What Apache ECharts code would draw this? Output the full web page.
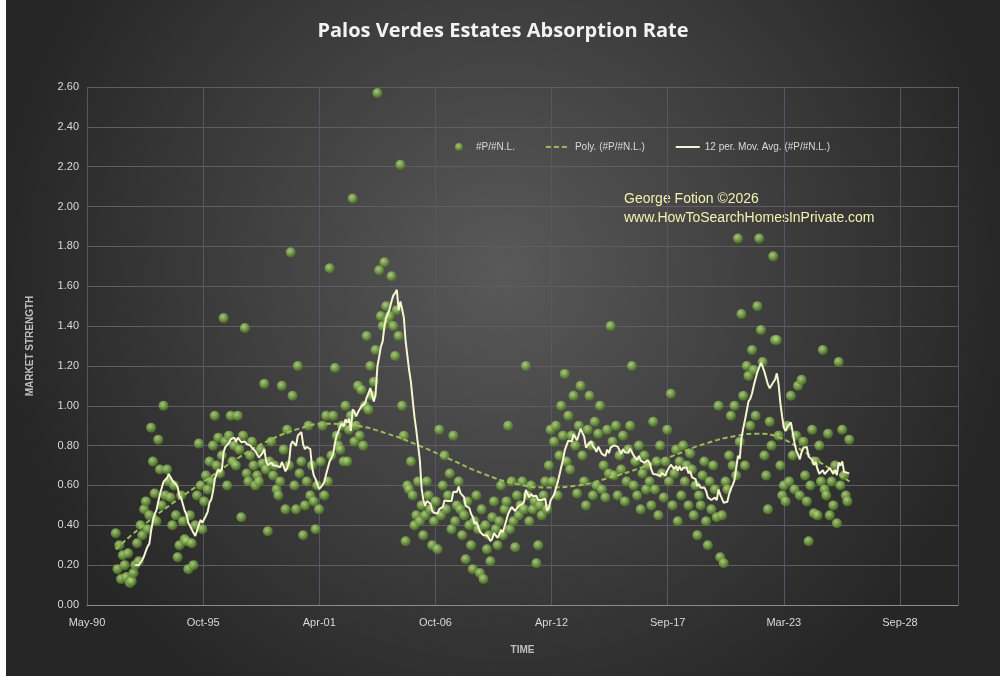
<!DOCTYPE html>
<html>
<head>
<meta charset="utf-8" />
<title>Palos Verdes Estates Absorption Rate</title>
<script src="https://cdn.jsdelivr.net/npm/echarts@6/dist/echarts.min.js"></script>
<style>
  html, body { margin: 0; padding: 0; background: #fff; }
  #chart { position: absolute; left: 6px; top: 0; width: 994px; height: 676px; }
</style>
</head>
<body>
<div id="chart"></div>
<script>
// first month of data: Sep 1991; monthly values per calendar year
const startYear = 1991, startMonth = 8;
const absorption = [
  0.36,0.18,0.30,0.13,
  0.25,0.20,0.14,0.26,0.11,0.12,0.16,0.20,0.31,0.22,0.40,0.35,
  0.48,0.52,0.38,0.45,0.89,0.72,0.56,0.42,0.83,0.68,0.50,1.00,
  0.55,0.68,0.62,0.54,0.40,0.60,0.45,0.24,0.30,0.55,0.42,0.33,
  0.32,0.18,0.45,0.31,0.20,0.40,0.55,0.81,0.60,0.38,0.52,0.65,
  0.58,0.72,0.62,0.80,0.95,0.70,0.84,0.66,0.75,1.44,0.82,0.60,
  0.85,0.95,0.72,0.80,0.70,0.95,0.78,0.44,0.85,1.39,0.66,0.62,
  0.75,0.82,0.70,0.60,0.65,0.62,0.78,0.71,1.11,0.68,0.37,0.72,
  0.82,0.65,0.70,0.58,0.55,0.62,1.10,0.78,0.48,0.88,0.70,1.77,
  1.05,0.60,0.48,1.20,0.66,0.72,0.35,0.50,0.62,0.90,0.55,0.70,
  0.52,0.38,0.60,0.48,0.72,0.90,0.55,0.95,0.62,1.69,0.75,0.95,
  1.19,0.85,0.80,0.78,0.90,0.72,1.00,0.72,0.88,0.95,2.04,0.82,
  0.90,1.10,0.85,1.08,0.80,1.00,1.35,0.98,1.20,1.05,1.12,1.28,
  2.57,1.68,1.45,1.40,1.72,1.50,1.43,1.45,1.65,1.40,1.25,1.48,
  1.35,2.21,1.00,0.85,0.32,0.60,0.58,0.72,0.55,0.40,0.45,0.62,
  0.42,0.50,0.35,0.45,0.62,0.55,0.48,0.30,0.42,0.52,0.28,0.88,
  0.45,0.60,0.75,0.48,0.55,0.66,0.38,0.85,0.42,0.50,0.62,0.48,
  0.35,0.45,0.23,0.52,0.40,0.30,0.18,0.42,0.55,0.38,0.16,0.48,
  0.13,0.40,0.28,0.35,0.22,0.44,0.52,0.38,0.30,0.42,0.60,0.35,
  0.48,0.52,0.90,0.38,0.62,0.42,0.29,0.55,0.45,0.50,0.62,0.48,
  1.20,0.55,0.42,0.60,0.48,0.52,0.21,0.30,0.50,0.45,0.55,0.62,
  0.48,0.70,0.88,0.62,0.82,0.90,0.55,0.75,1.00,0.85,1.16,0.72,
  0.95,0.68,0.85,1.05,0.80,0.56,0.90,1.10,0.75,0.62,0.50,0.88,
  1.05,0.80,0.55,0.92,0.60,0.86,1.00,0.58,0.70,0.54,0.88,0.66,
  1.40,0.82,0.65,0.90,0.55,0.75,0.68,0.85,0.52,0.62,0.78,0.90,
  1.20,0.60,0.72,0.55,0.80,0.48,0.66,0.75,0.58,0.70,0.62,0.50,
  0.92,0.58,0.72,0.45,0.80,0.66,0.54,0.72,0.88,0.62,1.06,0.50,
  0.66,0.78,0.42,0.72,0.55,0.80,0.62,0.70,0.50,0.76,0.68,0.45,
  0.60,0.35,0.55,0.50,0.65,0.72,0.42,0.30,0.62,0.48,0.70,0.58,
  0.44,1.00,0.24,0.45,0.21,0.62,0.58,0.75,0.95,0.70,1.00,0.65,
  1.84,0.82,1.46,1.05,0.70,1.20,1.15,0.90,1.28,1.18,0.95,1.50,
  1.84,1.38,1.22,0.75,0.65,0.48,0.92,0.80,1.75,1.33,1.33,0.85,
  0.70,0.55,0.60,0.52,0.90,0.62,1.05,0.75,0.58,0.85,1.10,0.55,
  1.13,0.82,0.65,0.52,0.32,0.60,0.88,0.46,0.72,0.45,0.80,0.62,
  1.28,0.58,0.55,0.86,0.45,0.62,0.50,0.70,0.41,1.22,0.60,0.88,
  0.65,0.55,0.52,0.83
];
// polynomial trend (year, value)
const polyYears = [1991.7,1993,1994.5,1996,1997.5,1999,2000.5,2001.5,2003,2004.5,2006,2007.5,2009,2010.5,2012,2013.5,2015,2016.5,2018,2019.5,2021,2022,2023,2024,2025,2026.3];
const polyVals  = [0.28,0.40,0.52,0.63,0.74,0.83,0.89,0.91,0.90,0.86,0.80,0.73,0.66,0.61,0.59,0.60,0.64,0.69,0.75,0.81,0.85,0.86,0.84,0.78,0.71,0.62];

function toSerial(y, m, d) { return Date.UTC(y, m, d) / 86400000 + 25569; }
function yearToSerial(yr) {
  const y = Math.floor(yr);
  const a = Date.UTC(y, 0, 1), b = Date.UTC(y + 1, 0, 1);
  return (a + (yr - y) * (b - a)) / 86400000 + 25569;
}
const months = ['Jan','Feb','Mar','Apr','May','Jun','Jul','Aug','Sep','Oct','Nov','Dec'];
function fmt(v) {
  const d = new Date((v - 25569) * 86400000);
  return months[d.getUTCMonth()] + '-' + String(d.getUTCFullYear()).slice(2);
}

const pts = absorption.map(function (v, i) {
  const m = startMonth + i;
  return [toSerial(startYear + Math.floor(m / 12), m % 12, 15), v];
});
const ma = [];
for (let i = 11; i < pts.length; i++) {
  let s = 0;
  for (let j = i - 11; j <= i; j++) s += pts[j][1];
  ma.push([pts[i][0], +(s / 12).toFixed(3)]);
}
const poly = polyYears.map(function (y, i) { return [yearToSerial(y), polyVals[i]]; });

const chart = echarts.init(document.getElementById('chart'));
chart.setOption({
  backgroundColor: {
    type: 'radial', x: 0.5, y: 0.4, r: 0.75,
    colorStops: [{ offset: 0, color: '#595959' }, { offset: 1, color: '#262626' }]
  },
  animation: false,
  textStyle: { fontFamily: 'Liberation Sans, Arial' },
  title: {
    text: 'Palos Verdes Estates Absorption Rate',
    left: 'center', top: 16,
    textStyle: { color: '#f2f2f2', fontSize: 20, fontWeight: 'bold', fontFamily: 'Open Sans' }
  },
  legend: {
    top: 137, left: 444, itemGap: 30, itemWidth: 24, itemHeight: 8,
    textStyle: { color: '#d9d9d9', fontSize: 10 },
    data: [
      { name: '#P/#N.L.', icon: 'circle' },
      { name: 'Poly. (#P/#N.L.)', itemStyle: { opacity: 0 } },
      { name: '12 per. Mov. Avg. (#P/#N.L.)', itemStyle: { opacity: 0 } }
    ]
  },
  grid: { left: 81, right: 42, top: 87, bottom: 71 },
  xAxis: {
    type: 'value', min: 33000, max: 48000, interval: 2000,
    name: 'TIME', nameLocation: 'middle', nameGap: 40,
    nameTextStyle: { color: '#bfbfbf', fontSize: 10, fontWeight: 'bold' },
    axisLine: { lineStyle: { color: '#8c8c8c' } },
    axisTick: { show: false },
    axisLabel: { color: '#d9d9d9', fontSize: 11, margin: 12, formatter: fmt, showMaxLabel: false },
    splitLine: { lineStyle: { color: '#565666' } }
  },
  yAxis: {
    type: 'value', min: 0, max: 2.6, interval: 0.2,
    name: 'MARKET STRENGTH', nameLocation: 'middle', nameGap: 52,
    nameTextStyle: { color: '#bfbfbf', fontSize: 10, fontWeight: 'bold' },
    axisLine: { show: false }, axisTick: { show: false },
    axisLabel: { color: '#d9d9d9', fontSize: 11, formatter: function (v) { return v.toFixed(2); } },
    splitLine: { lineStyle: { color: '#5f5f5f' } }
  },
  graphic: [{
    type: 'text', left: 618, top: 190,
    style: {
      text: 'George Fotion \u00a92026\nwww.HowToSearchHomesInPrivate.com',
      fill: '#f2f2b0', fontSize: 14, lineHeight: 19, fontFamily: 'Liberation Sans'
    }
  }],
  series: [
    {
      name: '#P/#N.L.', type: 'scatter', symbolSize: 10, data: pts, z: 2,
      itemStyle: {
        color: {
          type: 'radial', x: 0.4, y: 0.35, r: 0.6,
          colorStops: [{ offset: 0, color: '#c6e88f' }, { offset: 1, color: '#4f7d22' }]
        }
      }
    },
    {
      name: 'Poly. (#P/#N.L.)', type: 'line', data: poly, smooth: true, symbol: 'none', z: 3,
      itemStyle: { color: '#9bbb59' },
      lineStyle: { color: '#9bbb59', width: 2, type: [5, 3] }
    },
    {
      name: '12 per. Mov. Avg. (#P/#N.L.)', type: 'line', data: ma, symbol: 'none', z: 4,
      itemStyle: { color: '#f5f5d0' },
      lineStyle: { color: '#f5f5d0', width: 2 }
    }
  ]
});
</script>
</body>
</html>
